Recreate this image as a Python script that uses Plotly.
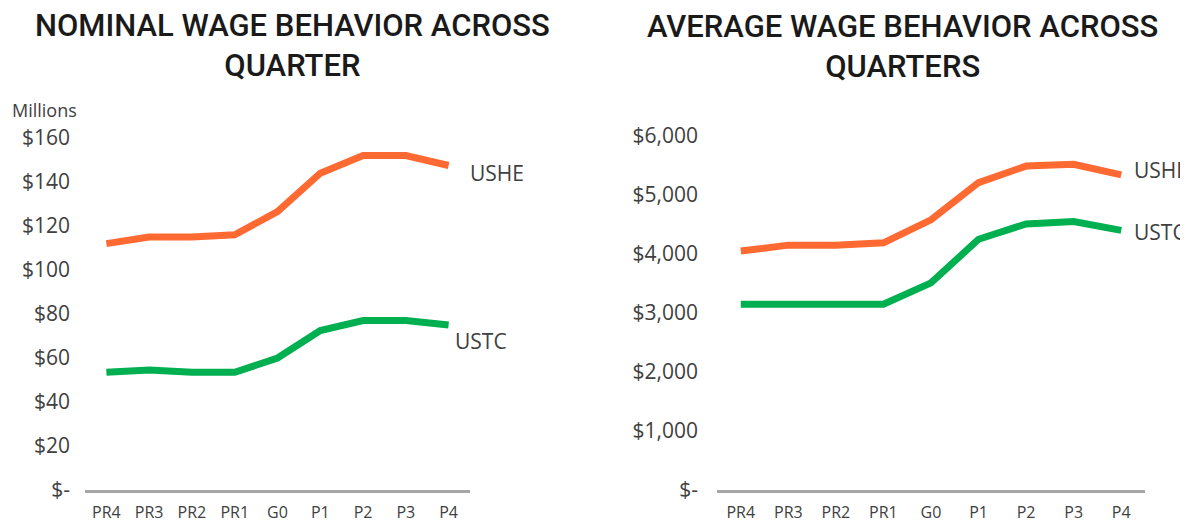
import plotly.graph_objects as go

W, H = 1188, 525
OFF = 8  # page body margin offset

quarters = ["PR4", "PR3", "PR2", "PR1", "G0", "P1", "P2", "P3", "P4"]

# Nominal wages (millions of $)
nominal_ushe = [112, 115, 115, 116, 126.5, 144, 152, 152, 147.5]
nominal_ustc = [53.5, 54.5, 53.5, 53.5, 60, 72.5, 77, 77, 75]

# Average wages ($)
average_ushe = [4050, 4150, 4150, 4190, 4580, 5210, 5490, 5520, 5340]
average_ustc = [3150, 3150, 3150, 3150, 3510, 4250, 4510, 4550, 4400]

nominal_ticks = [0, 20, 40, 60, 80, 100, 120, 140, 160]
nominal_ticktext = ["$-", "$20", "$40", "$60", "$80", "$100", "$120", "$140", "$160"]
average_ticks = [0, 1000, 2000, 3000, 4000, 5000, 6000]
average_ticktext = ["$-", "$1,000", "$2,000", "$3,000", "$4,000", "$5,000", "$6,000"]

ORANGE = "#FF6A33"
GREEN = "#00B050"
TXT = "#404040"
FONT = "Open Sans"


def px_x(p):
    return (p - OFF) / W


def px_y(p):
    return (H - (p - OFF)) / H


fig = go.Figure()

fig.add_trace(go.Scatter(x=quarters, y=nominal_ushe, mode="lines", name="USHE",
                         line=dict(color=ORANGE, width=7), xaxis="x", yaxis="y"))
fig.add_trace(go.Scatter(x=quarters, y=nominal_ustc, mode="lines", name="USTC",
                         line=dict(color=GREEN, width=7), xaxis="x", yaxis="y"))
fig.add_trace(go.Scatter(x=quarters, y=average_ushe, mode="lines", name="USHE",
                         line=dict(color=ORANGE, width=7), xaxis="x2", yaxis="y2"))
fig.add_trace(go.Scatter(x=quarters, y=average_ustc, mode="lines", name="USTC",
                         line=dict(color=GREEN, width=7), xaxis="x2", yaxis="y2"))

xcommon = dict(type="category", range=[-0.5, 8.5], showgrid=False, zeroline=False,
               showline=True, linecolor="#A6A6A6", linewidth=3, ticks="",
               tickfont=dict(family=FONT, size=16, color=TXT), ticklabelstandoff=6,
               fixedrange=True, automargin=False)
ycommon = dict(showgrid=False, zeroline=False, showline=False, ticks="",
               tickfont=dict(family=FONT, size=21, color=TXT), fixedrange=True,
               automargin=False)

fig.update_layout(
    width=W, height=H,
    margin=dict(l=0, r=0, t=0, b=0, autoexpand=False),
    paper_bgcolor="white", plot_bgcolor="white",
    showlegend=False,
    xaxis=dict(xcommon, domain=[px_x(85), px_x(470)], anchor="y"),
    yaxis=dict(ycommon, domain=[px_y(490), px_y(138)], range=[0, 160], anchor="x",
               tickvals=nominal_ticks, ticktext=nominal_ticktext, ticklabelstandoff=14),
    xaxis2=dict(xcommon, domain=[px_x(717), px_x(1145)], anchor="y2"),
    yaxis2=dict(ycommon, domain=[px_y(490), px_y(136)], range=[0, 6000], anchor="x2",
                tickvals=average_ticks, ticktext=average_ticktext, ticklabelstandoff=18),
)

title_font = dict(family="Roboto", size=31, color="#1A1A1A", weight=500)
fig.add_annotation(text="NOMINAL WAGE BEHAVIOR ACROSS<br>QUARTER", x=px_x(292), y=px_y(45.5),
                   xref="paper", yref="paper", xanchor="center", yanchor="middle",
                   align="center", showarrow=False, font=title_font)
fig.add_annotation(text="AVERAGE WAGE BEHAVIOR ACROSS<br>QUARTERS", x=px_x(902), y=px_y(46),
                   xref="paper", yref="paper", xanchor="center", yanchor="middle",
                   align="center", showarrow=False, font=title_font)

fig.add_annotation(text="Millions", xref="paper", yref="paper", x=px_x(10), y=px_y(110),
                   xanchor="left", yanchor="middle", showarrow=False,
                   font=dict(family=FONT, size=18, color=TXT))

label_font = dict(family=FONT, size=21, color=TXT)
# series labels anchored to last data points
fig.add_annotation(text="USHE", xref="x", yref="y", x=quarters[-1], y=nominal_ushe[-1],
                   xanchor="left", yanchor="middle", xshift=19, yshift=-7,
                   showarrow=False, font=label_font)
fig.add_annotation(text="USTC", xref="x", yref="y", x=quarters[-1], y=nominal_ustc[-1],
                   xanchor="left", yanchor="middle", xshift=4, yshift=-16,
                   showarrow=False, font=label_font)
fig.add_annotation(text="USHE", xref="x2", yref="y2", x=quarters[-1], y=average_ushe[-1],
                   xanchor="left", yanchor="middle", xshift=11, yshift=5,
                   showarrow=False, font=label_font)
fig.add_annotation(text="USTC", xref="x2", yref="y2", x=quarters[-1], y=average_ustc[-1],
                   xanchor="left", yanchor="middle", xshift=11, yshift=-2,
                   showarrow=False, font=label_font)

fig.write_html("out.html", config=dict(displayModeBar=False))
